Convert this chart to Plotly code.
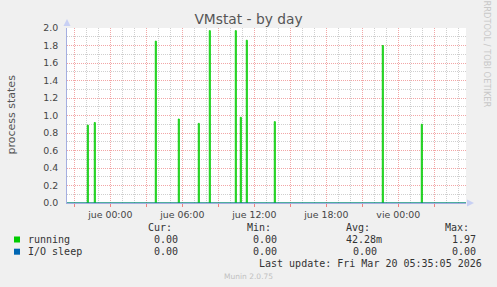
import numpy as np
import pandas as pd
import plotly.graph_objects as go

# ---- data ----
x_start = "2026-03-18 20:23:30"
x_end = "2026-03-20 05:38:30"
spike_times = ["2026-03-18 22:05", "2026-03-18 22:40", "2026-03-19 03:45",
               "2026-03-19 05:40", "2026-03-19 07:20", "2026-03-19 08:15",
               "2026-03-19 10:25", "2026-03-19 10:50", "2026-03-19 11:20",
               "2026-03-19 13:40", "2026-03-19 22:40", "2026-03-20 01:55"]
spike_values = [0.89, 0.92, 1.85, 0.96, 0.91, 1.97, 1.97, 0.98, 1.86, 0.93, 1.80, 0.90]
io_sleep_value = 0.0

x_tickvals = ["2026-03-18 21:00", "2026-03-19 00:00", "2026-03-19 03:00",
              "2026-03-19 06:00", "2026-03-19 09:00", "2026-03-19 12:00",
              "2026-03-19 15:00", "2026-03-19 18:00", "2026-03-19 21:00",
              "2026-03-20 00:00", "2026-03-20 03:00"]
x_ticktext = ["", "jue 00:00", "", "jue 06:00", "", "jue 12:00", "",
              "jue 18:00", "", "vie 00:00", ""]
y_tickvals = [0.0, 0.2, 0.4, 0.6, 0.8, 1.0, 1.2, 1.4, 1.6, 1.8, 2.0]

series_names = ["running", "I/O sleep"]
series_colors = ["#00cc00", "#0066b3"]
stat_headers = ["Cur:", "Min:", "Avg:", "Max:"]
running_stats = ["0.00", "0.00", "42.28m", "1.97"]
iosleep_stats = ["0.00", "0.00", "0.00", "0.00"]
last_update = "Last update: Fri Mar 20 05:35:05 2026"
footer = "Munin 2.0.75"

# ---- build 5-minute series ----
times = pd.date_range("2026-03-18 20:20", "2026-03-20 05:40", freq="5min")
running = np.zeros(len(times))
for t, v in zip(spike_times, spike_values):
    running[times.get_loc(pd.Timestamp(t))] = v
iosleep = np.full(len(times), io_sleep_value)

W, H = 497, 287
L, R, T, B = 67, 466, 28, 203

def px(x):
    return (x - L) / (R - L)

def py(y):
    return (B - y) / (B - T)

fig = go.Figure()
fig.add_trace(go.Scatter(x=times, y=running, mode="lines", line_shape="hv",
                         line=dict(color=series_colors[0], width=1),
                         name=series_names[0], hoverinfo="skip"))
fig.add_trace(go.Scatter(x=times, y=iosleep, mode="lines", line_shape="hv",
                         line=dict(color=series_colors[1], width=1),
                         name=series_names[1], hoverinfo="skip"))

axis_col = "#a4aee0"
major_grid = "#f2a6a6"
minor_grid = "#cfcfcf"
fig.update_layout(
    width=W, height=H,
    margin=dict(l=L, r=W - R, t=T, b=H - B, pad=0),
    paper_bgcolor="#f0f0f0", plot_bgcolor="#ffffff",
    showlegend=False,
    font=dict(family="DejaVu Sans", color="#444444"),
    title=dict(text="VMstat - by day", x=0.5, xanchor="center", xref="container",
               y=1 - 19.5 / H, yanchor="middle", yref="container",
               font=dict(size=13.8, color="#555555", family="DejaVu Sans")),
    xaxis=dict(type="date", range=[x_start, x_end],
               tickvals=x_tickvals, ticktext=x_ticktext,
               showgrid=True, gridcolor=major_grid, griddash="1px,1px", gridwidth=1,
               ticks="outside", ticklen=3, tickcolor="#f08080",
               tickfont=dict(size=9.4, color="#444444"),
               showline=True, linecolor=axis_col, linewidth=1,
               zeroline=False,
               minor=dict(dtick=3600000, showgrid=True, gridcolor=minor_grid,
                          griddash="1px,1px", ticks="")),
    yaxis=dict(range=[0, 2.0], tickvals=y_tickvals, tickformat=".1f",
               showgrid=True, gridcolor=major_grid, griddash="1px,1px", gridwidth=1,
               ticks="", ticklabelstandoff=6,
               tickfont=dict(size=9.4, color="#444444"),
               showline=True, linecolor=axis_col, linewidth=1,
               zeroline=False,
               minor=dict(dtick=0.1, showgrid=True, gridcolor=minor_grid,
                          griddash="1px,1px", ticks="")),
)

ann = []
def text(x, y, s, anchor="left", size=10, color="#333333", family="DejaVu Sans Mono", angle=0):
    ann.append(dict(x=px(x), y=py(y), xref="paper", yref="paper", text=s,
                    showarrow=False, xanchor=anchor, yanchor="middle",
                    textangle=angle, borderpad=0,
                    font=dict(size=size, color=color, family=family)))

# axis title and watermark
text(11, 114.5, "process states", anchor="center", size=11, color="#555555",
     family="DejaVu Sans", angle=-90)
text(487, 53.5, "RRDTOOL / TOBI OETIKER", anchor="center", size=8.3, color="#c8c8c8",
     family="DejaVu Sans", angle=90)

# legend table
header_right = [172.7, 271.7, 371, 470]
for h, xr in zip(stat_headers, header_right):
    text(xr, 227.3, h, anchor="right")
row_y = [239.5, 251.7]
val_right = [[179, 278.3, 383.3, 476.7], [179, 278.3, 377.7, 476.7]]
for name, ry, stats, rights in zip(series_names, row_y, [running_stats, iosleep_stats], val_right):
    text(26.5, ry, name, anchor="left")
    for s, xr in zip(stats, rights):
        text(xr, ry, s, anchor="right")
text(482.7, 263.5, last_update, anchor="right")
text(248, 276.3, footer, anchor="center", size=7.5, color="#c0c0c0", family="DejaVu Sans")
fig.update_layout(annotations=ann)

shapes = []
for col, ry in zip(series_colors, row_y):
    shapes.append(dict(type="rect", xref="paper", yref="paper",
                       x0=px(14), x1=px(20), y0=py(ry + 3), y1=py(ry - 3),
                       fillcolor=col, line=dict(width=0)))
arrow_col = "#c8d0f4"
# top arrow on y axis
shapes.append(dict(type="path", xref="paper", yref="paper",
                   path=f"M {px(63.5)} {py(26)} L {px(70.5)} {py(26)} L {px(67)} {py(19)} Z",
                   fillcolor=arrow_col, line=dict(width=0)))
# right arrow on x axis
shapes.append(dict(type="path", xref="paper", yref="paper",
                   path=f"M {px(467)} {py(199.5)} L {px(467)} {py(206.5)} L {px(474)} {py(203)} Z",
                   fillcolor=arrow_col, line=dict(width=0)))
fig.update_layout(shapes=shapes)

fig.write_html("out.html")
